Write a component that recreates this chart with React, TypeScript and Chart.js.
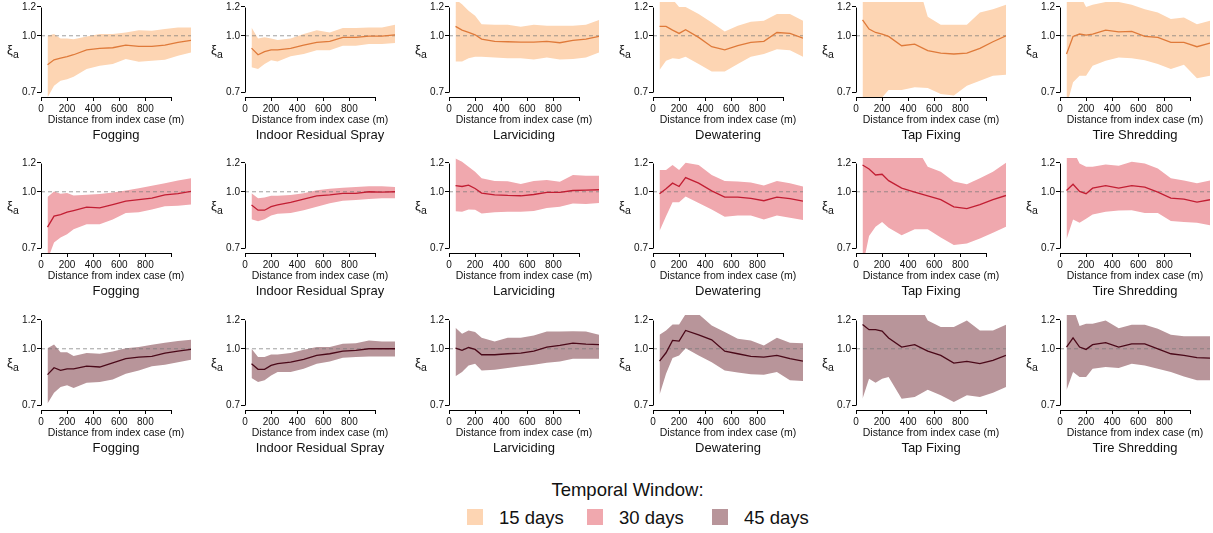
import React, { useEffect, useRef } from 'react';
import { Chart, registerables } from 'chart.js';
Chart.register(...registerables);

const FONT = '"Liberation Sans", Arial, Helvetica, sans-serif';

// ---------------- data ----------------
const distances = [50, 100, 150, 200, 250, 350, 450, 550, 650, 750, 850, 950, 1050, 1150];
const interventions = ['Fogging', 'Indoor Residual Spray', 'Larviciding', 'Dewatering', 'Tap Fixing', 'Tire Shredding'];
const temporalWindows = ['15 days', '30 days', '45 days'];
const yTickValues = [0.7, 1.0, 1.2];
const yTickLabels = ['0.7', '1.0', '1.2'];
const xTickValues = [0, 200, 400, 600, 800, 1000];
const xTickLabels = ['0', '200', '400', '600', '800', ''];
const xAxisTitle = 'Distance from index case (m)';
const legendTitle = 'Temporal Window:';

// 15 days
const fog15Mean = [0.833, 0.859, 0.868, 0.877, 0.887, 0.915, 0.923, 0.927, 0.943, 0.935, 0.935, 0.943, 0.959, 0.971];
const fog15Lo = [0.677, 0.729, 0.753, 0.76, 0.772, 0.81, 0.827, 0.836, 0.863, 0.849, 0.854, 0.859, 0.881, 0.9];
const fog15Hi = [1.0, 1.011, 0.983, 0.983, 0.979, 0.996, 1.011, 1.011, 1.021, 1.036, 1.032, 1.043, 1.054, 1.054];
const irs15Mean = [0.925, 0.887, 0.904, 0.915, 0.915, 0.923, 0.943, 0.959, 0.965, 0.99, 0.99, 0.998, 0.998, 1.006];
const irs15Lo = [0.819, 0.81, 0.836, 0.857, 0.85, 0.878, 0.891, 0.913, 0.913, 0.939, 0.939, 0.949, 0.949, 0.955];
const irs15Hi = [1.054, 0.983, 0.99, 0.983, 0.973, 0.983, 1.011, 1.036, 1.021, 1.05, 1.05, 1.054, 1.054, 1.072];
const larv15Mean = [1.061, 1.036, 1.021, 1.006, 0.979, 0.965, 0.963, 0.961, 0.961, 0.965, 0.957, 0.971, 0.979, 0.996];
const larv15Lo = [0.85, 0.85, 0.868, 0.876, 0.876, 0.872, 0.868, 0.868, 0.861, 0.872, 0.861, 0.863, 0.872, 0.9];
const larv15Hi = [1.26, 1.22, 1.171, 1.135, 1.076, 1.072, 1.072, 1.058, 1.072, 1.065, 1.065, 1.065, 1.072, 1.104];
const dew15Mean = [1.061, 1.061, 1.036, 1.015, 1.039, 0.99, 0.933, 0.915, 0.939, 0.959, 0.965, 1.021, 1.015, 0.985];
const dew15Lo = [0.805, 0.854, 0.868, 0.863, 0.876, 0.836, 0.798, 0.798, 0.836, 0.876, 0.891, 0.919, 0.913, 0.876];
const dew15Hi = [1.3, 1.3, 1.26, 1.2, 1.2, 1.147, 1.088, 1.028, 1.065, 1.092, 1.099, 1.147, 1.147, 1.099];
const tap15Mean = [1.106, 1.043, 1.021, 1.011, 0.996, 0.939, 0.949, 0.91, 0.896, 0.891, 0.896, 0.923, 0.963, 1.0];
const tap15Lo = [0.62, 0.62, 0.64, 0.677, 0.71, 0.71, 0.722, 0.719, 0.692, 0.685, 0.729, 0.753, 0.777, 0.782];
const tap15Hi = [1.4, 1.4, 1.4, 1.4, 1.4, 1.4, 1.5, 1.127, 1.072, 1.072, 1.072, 1.159, 1.183, 1.216];
const tire15Mean = [0.891, 0.996, 1.011, 1.004, 1.011, 1.036, 1.025, 1.028, 0.996, 0.99, 0.959, 0.959, 0.933, 0.955];
const tire15Lo = [0.64, 0.745, 0.777, 0.777, 0.827, 0.854, 0.872, 0.868, 0.857, 0.836, 0.81, 0.833, 0.765, 0.777];
const tire15Hi = [1.3, 1.3, 1.3, 1.2, 1.216, 1.238, 1.238, 1.216, 1.183, 1.159, 1.111, 1.123, 1.076, 1.099];

// 30 days
const fog30Mean = [0.8, 0.857, 0.866, 0.879, 0.888, 0.907, 0.903, 0.922, 0.942, 0.951, 0.961, 0.981, 0.988, 1.002];
const fog30Lo = [0.65, 0.726, 0.749, 0.764, 0.789, 0.814, 0.814, 0.839, 0.875, 0.879, 0.894, 0.912, 0.916, 0.922];
const fog30Hi = [0.967, 1.002, 0.988, 0.992, 0.977, 0.981, 0.986, 0.996, 1.008, 1.023, 1.038, 1.056, 1.073, 1.089];
const irs30Mean = [0.92, 0.89, 0.89, 0.91, 0.92, 0.935, 0.955, 0.975, 0.98, 0.99, 0.99, 1.0, 0.998, 1.0];
const irs30Lo = [0.84, 0.83, 0.84, 0.86, 0.87, 0.875, 0.89, 0.91, 0.93, 0.945, 0.95, 0.955, 0.96, 0.96];
const irs30Hi = [0.99, 0.96, 0.965, 0.975, 0.975, 0.98, 0.99, 1.01, 1.02, 1.025, 1.03, 1.035, 1.035, 1.03];
const larv30Mean = [1.04, 1.034, 1.043, 1.021, 0.992, 0.981, 0.977, 0.975, 0.983, 0.996, 0.996, 1.008, 1.01, 1.013];
const larv30Lo = [0.884, 0.881, 0.894, 0.892, 0.871, 0.879, 0.882, 0.881, 0.886, 0.903, 0.909, 0.928, 0.926, 0.932];
const larv30Hi = [1.234, 1.209, 1.172, 1.135, 1.089, 1.071, 1.069, 1.051, 1.071, 1.078, 1.065, 1.112, 1.107, 1.107];
const dew30Mean = [0.988, 1.019, 1.056, 1.034, 1.094, 1.056, 1.006, 0.967, 0.967, 0.959, 0.945, 0.967, 0.957, 0.942];
const dew30Lo = [0.78, 0.857, 0.936, 0.936, 0.971, 0.932, 0.894, 0.854, 0.861, 0.861, 0.839, 0.861, 0.848, 0.836];
const dew30Hi = [1.147, 1.147, 1.184, 1.147, 1.201, 1.184, 1.112, 1.071, 1.067, 1.06, 1.04, 1.071, 1.056, 1.034];
const tap30Mean = [1.184, 1.155, 1.112, 1.117, 1.073, 1.023, 0.998, 0.975, 0.951, 0.909, 0.899, 0.922, 0.951, 0.977];
const tap30Lo = [0.62, 0.756, 0.802, 0.826, 0.797, 0.76, 0.789, 0.789, 0.749, 0.714, 0.721, 0.744, 0.772, 0.802];
const tap30Hi = [1.4, 1.4, 1.4, 1.4, 1.4, 1.4, 1.35, 1.171, 1.135, 1.067, 1.049, 1.089, 1.135, 1.201];
const tire30Mean = [1.008, 1.049, 1.002, 0.988, 1.023, 1.04, 1.023, 1.04, 1.03, 0.998, 0.961, 0.955, 0.937, 0.951];
const tire30Lo = [0.741, 0.839, 0.822, 0.843, 0.866, 0.881, 0.888, 0.89, 0.875, 0.875, 0.831, 0.826, 0.822, 0.809];
const tire30Hi = [1.4, 1.3, 1.196, 1.172, 1.172, 1.189, 1.179, 1.209, 1.196, 1.159, 1.089, 1.073, 1.056, 1.073];

// 45 days
const fog45Mean = [0.849, 0.887, 0.872, 0.881, 0.881, 0.896, 0.891, 0.915, 0.939, 0.949, 0.953, 0.973, 0.985, 0.996];
const fog45Lo = [0.707, 0.757, 0.785, 0.794, 0.78, 0.807, 0.81, 0.824, 0.854, 0.872, 0.896, 0.904, 0.919, 0.933];
const fog45Hi = [1.004, 1.028, 0.979, 0.979, 0.955, 0.973, 0.969, 0.983, 1.004, 1.011, 1.026, 1.039, 1.05, 1.058];
const irs45Mean = [0.91, 0.878, 0.878, 0.9, 0.91, 0.919, 0.935, 0.959, 0.969, 0.985, 0.99, 1.0, 1.0, 1.0];
const irs45Lo = [0.831, 0.81, 0.819, 0.845, 0.863, 0.863, 0.881, 0.91, 0.923, 0.945, 0.949, 0.953, 0.953, 0.953];
const irs45Hi = [1.0, 0.949, 0.949, 0.965, 0.965, 0.973, 0.994, 1.011, 1.011, 1.032, 1.036, 1.054, 1.047, 1.047];
const larv45Mean = [1.004, 0.99, 1.008, 0.996, 0.963, 0.963, 0.969, 0.973, 0.985, 1.011, 1.021, 1.036, 1.03, 1.026];
const larv45Lo = [0.841, 0.863, 0.9, 0.91, 0.872, 0.876, 0.885, 0.896, 0.904, 0.915, 0.923, 0.939, 0.939, 0.939];
const larv45Hi = [1.142, 1.099, 1.123, 1.111, 1.072, 1.047, 1.072, 1.072, 1.088, 1.116, 1.116, 1.118, 1.116, 1.092];
const dew45Mean = [0.925, 0.975, 1.054, 1.05, 1.123, 1.092, 1.058, 0.985, 0.969, 0.953, 0.949, 0.959, 0.939, 0.925];
const dew45Lo = [0.748, 0.854, 0.943, 0.959, 1.004, 0.959, 0.919, 0.872, 0.86, 0.851, 0.849, 0.863, 0.819, 0.815];
const dew45Hi = [1.092, 1.123, 1.166, 1.166, 1.245, 1.245, 1.159, 1.111, 1.065, 1.054, 1.021, 1.072, 1.039, 1.036];
const tap45Mean = [1.166, 1.128, 1.128, 1.118, 1.07, 1.011, 1.026, 0.985, 0.959, 0.913, 0.923, 0.91, 0.929, 0.959];
const tap45Lo = [0.729, 0.827, 0.807, 0.827, 0.836, 0.729, 0.737, 0.772, 0.745, 0.714, 0.745, 0.737, 0.757, 0.785];
const tap45Hi = [1.4, 1.4, 1.4, 1.4, 1.4, 1.4, 1.4, 1.196, 1.147, 1.147, 1.196, 1.123, 1.123, 1.164];
const tire45Mean = [1.011, 1.072, 1.011, 0.996, 1.026, 1.039, 1.011, 1.032, 1.032, 1.0, 0.969, 0.959, 0.945, 0.943];
const tire45Lo = [0.769, 0.863, 0.836, 0.836, 0.881, 0.891, 0.885, 0.91, 0.9, 0.881, 0.863, 0.839, 0.819, 0.819];
const tire45Hi = [1.4, 1.3, 1.154, 1.171, 1.171, 1.196, 1.139, 1.164, 1.164, 1.135, 1.092, 1.083, 1.083, 1.083];

type Series = { mean: number[]; lo: number[]; hi: number[] };
const SERIES: Series[][] = [
  [
    { mean: fog15Mean, lo: fog15Lo, hi: fog15Hi },
    { mean: irs15Mean, lo: irs15Lo, hi: irs15Hi },
    { mean: larv15Mean, lo: larv15Lo, hi: larv15Hi },
    { mean: dew15Mean, lo: dew15Lo, hi: dew15Hi },
    { mean: tap15Mean, lo: tap15Lo, hi: tap15Hi },
    { mean: tire15Mean, lo: tire15Lo, hi: tire15Hi },
  ],
  [
    { mean: fog30Mean, lo: fog30Lo, hi: fog30Hi },
    { mean: irs30Mean, lo: irs30Lo, hi: irs30Hi },
    { mean: larv30Mean, lo: larv30Lo, hi: larv30Hi },
    { mean: dew30Mean, lo: dew30Lo, hi: dew30Hi },
    { mean: tap30Mean, lo: tap30Lo, hi: tap30Hi },
    { mean: tire30Mean, lo: tire30Lo, hi: tire30Hi },
  ],
  [
    { mean: fog45Mean, lo: fog45Lo, hi: fog45Hi },
    { mean: irs45Mean, lo: irs45Lo, hi: irs45Hi },
    { mean: larv45Mean, lo: larv45Lo, hi: larv45Hi },
    { mean: dew45Mean, lo: dew45Lo, hi: dew45Hi },
    { mean: tap45Mean, lo: tap45Lo, hi: tap45Hi },
    { mean: tire45Mean, lo: tire45Lo, hi: tire45Hi },
  ],
];

// ---------------- styles / layout ----------------
const FILL_COLORS = ['#FDD5B3', '#F0A8AE', '#B8959A'];
const LINE_COLORS = ['#DF7A3A', '#C21E33', '#4A0818'];
const REF_COLOR = 'rgba(120,120,120,0.7)';

const PANEL_W = 193;
const PANEL_H = 150;
const AXIS_W = 41;
const PAD_TOP = 2;
const X_AXIS_H = 53;
const COL_AXIS_X = [41, 245, 449, 653, 856, 1060];
const ROW_TOP = [0, 156, 313];
const X_MAX = 1150;
const Y_MIN = 0.679;
const Y_MAX = 1.238;

const toXY = (vals: number[]) => vals.map((v, i) => ({ x: distances[i], y: v }));

const rAxesPlugin = {
  id: 'rAxes',
  afterDraw(chart: any, _args: any, opts: any) {
    const { ctx, chartArea } = chart;
    const xs = chart.scales.x;
    const ys = chart.scales.y;
    ctx.save();
    ctx.strokeStyle = '#000';
    ctx.lineWidth = 1;
    // y axis line from first to last tick
    const ax = Math.round(chartArea.left) + 0.5;
    ctx.beginPath();
    ctx.moveTo(ax, Math.round(ys.getPixelForValue(yTickValues[yTickValues.length - 1])) + 0.5);
    ctx.lineTo(ax, Math.round(ys.getPixelForValue(yTickValues[0])) + 0.5);
    ctx.stroke();
    // x axis line
    const ay = Math.round(chartArea.bottom) + 0.5;
    ctx.beginPath();
    ctx.moveTo(Math.round(xs.getPixelForValue(xTickValues[0])) + 0.5, ay);
    ctx.lineTo(Math.round(xs.getPixelForValue(xTickValues[xTickValues.length - 1])) + 0.5, ay);
    ctx.stroke();

    ctx.fillStyle = '#111';
    ctx.textBaseline = 'alphabetic';
    const cx = (chartArea.left + chartArea.right) / 2;
    ctx.textAlign = 'center';
    ctx.font = `10.5px ${FONT}`;
    ctx.fillText(xAxisTitle, cx, chartArea.bottom + 26);
    ctx.font = `13px ${FONT}`;
    ctx.fillText(opts.title, cx, chartArea.bottom + 42);
    // y label xi_a
    ctx.textAlign = 'left';
    ctx.font = `13px ${FONT}`;
    ctx.fillText('ξ', chartArea.left - 34, chartArea.top + 52);
    ctx.font = `10.5px ${FONT}`;
    ctx.fillText('a', chartArea.left - 28, chartArea.top + 55.5);
    ctx.restore();
  },
};

function Panel({ row, col }: { row: number; col: number }) {
  const ref = useRef<HTMLCanvasElement>(null);
  useEffect(() => {
    const s = SERIES[row][col];
    const tickFont = { family: FONT, size: 10 };
    const chart = new Chart(ref.current as HTMLCanvasElement, {
      type: 'line',
      data: {
        datasets: [
          {
            label: temporalWindows[row],
            data: toXY(s.mean),
            borderColor: LINE_COLORS[row],
            borderWidth: 1.3,
            pointRadius: 0,
            fill: false,
            order: 0,
          },
          {
            label: 'ref',
            data: [
              { x: 0, y: 1 },
              { x: X_MAX, y: 1 },
            ],
            borderColor: REF_COLOR,
            borderWidth: 1,
            borderDash: [4, 3],
            pointRadius: 0,
            fill: false,
            order: 1,
          },
          {
            label: 'upper',
            data: toXY(s.hi),
            borderColor: 'transparent',
            borderWidth: 0,
            backgroundColor: FILL_COLORS[row],
            pointRadius: 0,
            fill: '+1',
            order: 2,
          },
          {
            label: 'lower',
            data: toXY(s.lo),
            borderColor: 'transparent',
            borderWidth: 0,
            pointRadius: 0,
            fill: false,
            order: 3,
          },
        ],
      } as any,
      options: {
        animation: false,
        responsive: false,
        events: [],
        layout: { padding: { left: 0, top: PAD_TOP, right: PANEL_W - AXIS_W - 150, bottom: 0 } },
        plugins: {
          legend: { display: false },
          tooltip: { enabled: false },
          title: { display: false },
          rAxes: { title: interventions[col] },
        } as any,
        scales: {
          x: {
            type: 'linear',
            min: 0,
            max: X_MAX,
            border: { display: false },
            grid: { drawOnChartArea: false, drawTicks: true, tickLength: 4, color: '#000', lineWidth: 1 },
            ticks: {
              autoSkip: false,
              maxRotation: 0,
              padding: 2,
              color: '#111',
              font: tickFont,
              callback: (v: any) => {
                const i = xTickValues.indexOf(Number(v));
                return i >= 0 ? xTickLabels[i] : '';
              },
            },
            afterBuildTicks: (sc: any) => {
              sc.ticks = xTickValues.map((v) => ({ value: v }));
            },
            afterFit: (sc: any) => {
              sc.height = X_AXIS_H;
              sc.paddingLeft = 0;
              sc.paddingRight = 0;
            },
          },
          y: {
            type: 'logarithmic',
            min: Y_MIN,
            max: Y_MAX,
            border: { display: false },
            grid: { drawOnChartArea: false, drawTicks: true, tickLength: 4, color: '#000', lineWidth: 1 },
            ticks: {
              autoSkip: false,
              padding: 1,
              color: '#111',
              font: tickFont,
              callback: (v: any) => {
                const i = yTickValues.findIndex((t) => Math.abs(t - Number(v)) < 1e-6);
                return i >= 0 ? yTickLabels[i] : '';
              },
            },
            afterBuildTicks: (sc: any) => {
              sc.ticks = yTickValues.map((v) => ({ value: v }));
            },
            afterFit: (sc: any) => {
              sc.width = AXIS_W;
              sc.paddingTop = 0;
              sc.paddingBottom = 0;
            },
          },
        } as any,
      },
      plugins: [rAxesPlugin as any],
    });
    return () => chart.destroy();
  }, [row, col]);
  return (
    <canvas
      ref={ref}
      width={PANEL_W}
      height={PANEL_H}
      style={{
        position: 'absolute',
        left: COL_AXIS_X[col] - AXIS_W,
        top: ROW_TOP[row],
        width: PANEL_W,
        height: PANEL_H,
      }}
    />
  );
}

const LEGEND_SQ_X = [467, 587, 712];

export default function App() {
  return (
    <div
      style={{
        position: 'absolute',
        left: 0,
        top: 0,
        width: 1213,
        height: 533,
        overflow: 'hidden',
        background: '#fff',
        fontFamily: FONT,
      }}
    >
      {temporalWindows.map((_, r) =>
        interventions.map((_, c) => <Panel key={`${r}-${c}`} row={r} col={c} />)
      )}
      <div
        style={{
          position: 'absolute',
          left: 0,
          top: 480,
          width: 1255,
          textAlign: 'center',
          fontSize: 18.5,
          lineHeight: '20px',
          color: '#111',
          whiteSpace: 'nowrap',
        }}
      >
        {legendTitle}
      </div>
      {temporalWindows.map((w, i) => (
        <React.Fragment key={w}>
          <div
            style={{
              position: 'absolute',
              left: LEGEND_SQ_X[i],
              top: 509,
              width: 16,
              height: 16,
              background: FILL_COLORS[i],
              boxSizing: 'border-box',
            }}
          />
          <div
            style={{
              position: 'absolute',
              left: LEGEND_SQ_X[i] + 32,
              top: 508,
              fontSize: 18.5,
              lineHeight: '20px',
              color: '#111',
              whiteSpace: 'nowrap',
            }}
          >
            {w}
          </div>
        </React.Fragment>
      ))}
    </div>
  );
}
